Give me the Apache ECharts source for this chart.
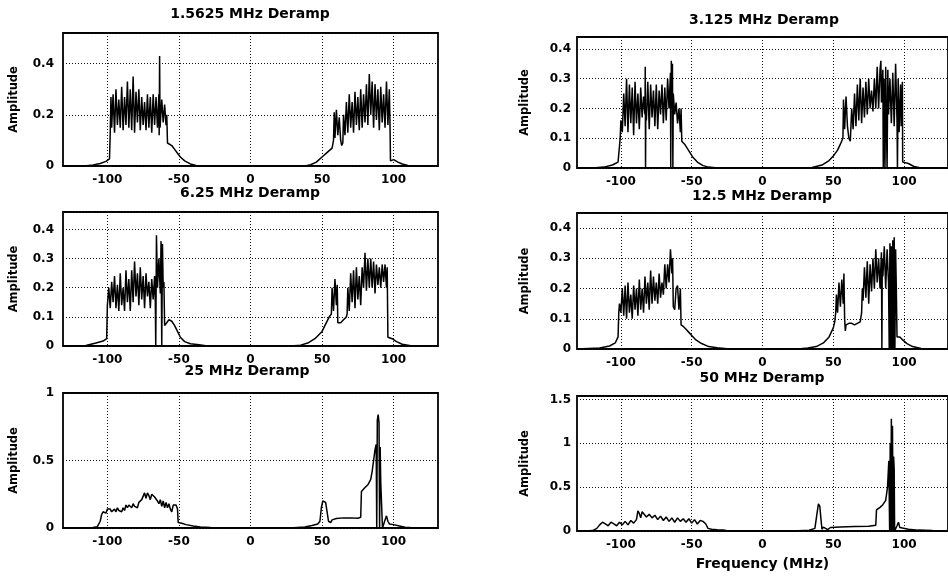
<!DOCTYPE html>
<html>
<head>
<meta charset="utf-8">
<script src="https://cdn.jsdelivr.net/npm/echarts@6/dist/echarts.min.js"></script>
<style>html,body{margin:0;padding:0;background:#fff;}#c{width:948px;height:576px;}</style>
</head>
<body>
<div id="c"></div>
<script>
// ---- data (frequency MHz, amplitude) ----
const titles = ['1.5625 MHz Deramp', '3.125 MHz Deramp', '6.25 MHz Deramp', '12.5 MHz Deramp', '25 MHz Deramp', '50 MHz Deramp'];
const xTicks = [-100, -50, 0, 50, 100];
const yMaxes = [0.52, 0.44, 0.46, 0.45, 1, 1.54];
const ySteps = [0.2, 0.1, 0.1, 0.1, 0.5, 0.5];

const spec1 = [[-131,0],[-116,0],[-110,0.004],[-105,0.01],[-101,0.018],[-98.5,0.028],[-98,0.13],[-97.5,0.27],[-97,0.15],[-96,0.28],[-95,0.13],[-94,0.3],[-93,0.16],[-92,0.26],[-91,0.15],[-90,0.31],[-89,0.14],[-88,0.27],[-87,0.16],[-86,0.33],[-85,0.15],[-84,0.3],[-83,0.14],[-82,0.35],[-81,0.13],[-80,0.29],[-79,0.17],[-78,0.3],[-77,0.14],[-76,0.27],[-75,0.16],[-74,0.25],[-73,0.14],[-72,0.28],[-71,0.15],[-70,0.27],[-69,0.13],[-68,0.28],[-67,0.16],[-66,0.27],[-65,0.15],[-64,0.28],[-63.8,0.12],[-63.5,0.43],[-63.2,0.15],[-62,0.26],[-61,0.17],[-60,0.24],[-59,0.16],[-58.5,0.2],[-58,0.09],[-57,0.085],[-55,0.08],[-53,0.065],[-51,0.05],[-49,0.035],[-46,0.02],[-42,0.008],[-38,0.002],[-32,0],
[38,0],[42,0.005],[46,0.015],[50,0.035],[54,0.055],[57,0.07],[58,0.1],[58.5,0.21],[59,0.11],[60,0.22],[61,0.12],[62,0.19],[63,0.1],[63.7,0.08],[64.5,0.09],[65,0.2],[66,0.12],[67,0.25],[68,0.13],[69,0.28],[70,0.15],[71,0.25],[72,0.13],[73,0.29],[74,0.16],[75,0.27],[76,0.14],[77,0.3],[78,0.15],[79,0.28],[80,0.17],[81,0.32],[82,0.16],[83,0.36],[84,0.2],[85,0.33],[86,0.15],[87,0.32],[88,0.18],[89,0.3],[90,0.14],[91,0.31],[92,0.17],[93,0.28],[94,0.15],[95,0.33],[96,0.16],[97,0.3],[97.5,0.15],[97.8,0.02],[100,0.025],[103,0.015],[106,0.008],[110,0.002],[116,0],[131,0]];

const spec2 = [[-131,0],[-120,0],[-112,0.003],[-106,0.01],[-102,0.02],[-101,0.025],[-100.5,0.1],[-100,0.16],[-99,0.12],[-98,0.25],[-97,0.14],[-96,0.3],[-95,0.12],[-94,0.28],[-93,0.15],[-92,0.27],[-91,0.11],[-90,0.29],[-89,0.15],[-88,0.25],[-87,0.13],[-86,0.27],[-85,0.17],[-84,0.24],[-83,0.18],[-82.8,0.34],[-82.6,0],[-82.4,0.2],[-82,0.16],[-81,0.29],[-80,0.13],[-79,0.28],[-78,0.17],[-77,0.26],[-76,0.14],[-75,0.28],[-74,0.13],[-73,0.26],[-72,0.18],[-71,0.28],[-70,0.15],[-69,0.27],[-68,0.16],[-67,0.3],[-66,0.2],[-65,0.32],[-64.8,0],[-64.4,0.36],[-64,0.2],[-63.6,0.35],[-63.3,0],[-63,0.25],[-62,0.18],[-61,0.22],[-60,0.15],[-59,0.2],[-58,0.12],[-57.5,0.2],[-57,0.09],[-56,0.085],[-55,0.08],[-53,0.065],[-51,0.05],[-49,0.035],[-46,0.02],[-42,0.008],[-38,0.003],[-32,0],
[20,0],[35,0.002],[42,0.01],[47,0.025],[50,0.04],[53,0.06],[55,0.08],[56.8,0.1],[57.2,0.23],[58,0.13],[59,0.24],[60,0.14],[61,0.1],[62,0.09],[63,0.2],[64,0.13],[65,0.25],[66,0.14],[67,0.28],[68,0.16],[69,0.3],[70,0.15],[71,0.27],[72,0.17],[73,0.29],[74,0.18],[75,0.3],[76,0.2],[77,0.26],[78,0.19],[79,0.3],[80,0.2],[81,0.34],[82,0.2],[83,0.33],[83.6,0.36],[84,0.22],[85,0.33],[85.3,0],[85.8,0.3],[86.5,0],[87,0.34],[87.5,0.14],[88,0],[88.5,0.33],[89,0.18],[90,0.3],[91,0.15],[92,0.32],[93,0.14],[94,0.35],[95,0.16],[95.3,0],[95.8,0.3],[96.5,0.12],[97.5,0.28],[98,0.14],[98.8,0.29],[99,0.02],[100,0.022],[103,0.015],[107,0.005],[112,0],[131,0]];

const spec3 = [[-131,0],[-115,0.002],[-108,0.01],[-103,0.017],[-100.5,0.025],[-100,0.14],[-99,0.2],[-98,0.13],[-97,0.22],[-96,0.15],[-95,0.24],[-94,0.13],[-93,0.21],[-92,0.12],[-91,0.25],[-90,0.14],[-89,0.2],[-88,0.12],[-87,0.26],[-86,0.15],[-85,0.23],[-84,0.12],[-83,0.26],[-82,0.15],[-81,0.29],[-80,0.17],[-79,0.25],[-78,0.14],[-77,0.27],[-76,0.16],[-75,0.24],[-74,0.13],[-73,0.25],[-72,0.17],[-71,0.22],[-70,0.13],[-69,0.23],[-68,0.16],[-67,0.24],[-66.5,0.15],[-66.2,0],[-65.7,0.38],[-65,0.2],[-64,0.3],[-63,0.18],[-62.5,0.36],[-62,0],[-61.5,0.35],[-61,0.2],[-60.5,0.22],[-60,0.07],[-59,0.075],[-57,0.09],[-55,0.085],[-53,0.07],[-51,0.05],[-49,0.03],[-46,0.015],[-42,0.008],[-36,0.004],[-30,0],
[28,0],[35,0.003],[40,0.01],[45,0.025],[50,0.05],[53,0.08],[55,0.1],[56.5,0.11],[57,0.2],[58,0.12],[59,0.23],[60,0.14],[60.6,0.21],[61,0.08],[63,0.08],[65,0.09],[67,0.1],[67.5,0.11],[68,0.2],[69,0.12],[70,0.25],[71,0.15],[72,0.26],[73,0.13],[74,0.27],[75,0.16],[76,0.24],[77,0.14],[78,0.27],[79,0.2],[80,0.32],[81,0.19],[82,0.3],[83,0.2],[84,0.3],[85,0.2],[86,0.29],[87,0.18],[88,0.28],[89,0.21],[90,0.27],[91,0.2],[92,0.28],[93,0.22],[94,0.28],[95,0.2],[95.5,0.27],[96,0.03],[99,0.025],[102,0.015],[106,0.006],[112,0.001],[118,0],[131,0]];

const spec4 = [[-131,0],[-115,0.003],[-108,0.01],[-104,0.02],[-102,0.04],[-101.5,0.12],[-101,0.15],[-100,0.12],[-99,0.2],[-98,0.11],[-97,0.21],[-96,0.1],[-95,0.22],[-94,0.12],[-93,0.18],[-92,0.1],[-91,0.21],[-90,0.13],[-89,0.2],[-88,0.11],[-87,0.23],[-86,0.13],[-85,0.2],[-84,0.12],[-83,0.24],[-82,0.15],[-81,0.22],[-80,0.13],[-79,0.26],[-78,0.15],[-77,0.24],[-76,0.16],[-75,0.22],[-74,0.15],[-73,0.25],[-72,0.17],[-71,0.22],[-70,0.18],[-69,0.28],[-68,0.2],[-67,0.28],[-66,0.22],[-65,0.33],[-64,0.25],[-63.5,0.3],[-63,0.14],[-62,0.13],[-61,0.2],[-60,0.21],[-59,0.13],[-58,0.2],[-57.5,0.08],[-56,0.075],[-54,0.065],[-52,0.055],[-50,0.045],[-47,0.03],[-43,0.018],[-38,0.008],[-32,0.004],[-25,0.001],[-20,0],
[25,0],[32,0.003],[38,0.008],[43,0.02],[47,0.04],[50,0.07],[51,0.09],[51.7,0.12],[52.2,0.18],[53,0.12],[54,0.22],[55,0.14],[56,0.23],[57,0.15],[57.5,0.25],[58,0.1],[58.5,0.06],[59,0.08],[61,0.085],[63,0.085],[65,0.08],[67,0.085],[69,0.09],[70,0.12],[70.5,0.2],[71,0.16],[72,0.27],[73,0.17],[74,0.29],[75,0.15],[76,0.28],[77,0.19],[78,0.3],[79,0.2],[80,0.33],[81,0.22],[82,0.3],[83,0.2],[84,0.32],[84.3,0],[84.6,0.3],[85,0.24],[86,0.34],[87,0.2],[88,0.33],[89,0.22],[89.5,0],[90,0.35],[90.5,0],[91,0.34],[91.5,0],[92,0.36],[92.5,0],[93,0.37],[93.5,0],[94,0.33],[94.5,0.2],[95,0.04],[96,0.045],[97,0.04],[99,0.03],[102,0.018],[106,0.008],[112,0.002],[118,0],[131,0]];

const spec5 = [[-131,0],[-115,0],[-110,0.003],[-107,0.01],[-105,0.05],[-104,0.1],[-103,0.12],[-102,0.13],[-101,0.11],[-100,0.14],[-99,0.13],[-98,0.14],[-97,0.12],[-96,0.13],[-95,0.14],[-94,0.12],[-93,0.15],[-92,0.13],[-91,0.14],[-90,0.12],[-89,0.15],[-88,0.13],[-87,0.17],[-86,0.15],[-85,0.17],[-84,0.16],[-83,0.15],[-82,0.18],[-81,0.16],[-80,0.17],[-79,0.15],[-78,0.19],[-77,0.18],[-76,0.21],[-75,0.2],[-74,0.26],[-73,0.22],[-72,0.26],[-71,0.24],[-70,0.21],[-69,0.25],[-68,0.26],[-67,0.23],[-66,0.22],[-65,0.2],[-64,0.18],[-63,0.21],[-62,0.16],[-61,0.2],[-60,0.15],[-59,0.19],[-58,0.15],[-57,0.18],[-56,0.14],[-55,0.12],[-54,0.17],[-53,0.16],[-52,0.17],[-51,0.14],[-50.5,0.04],[-48,0.035],[-45,0.025],[-40,0.015],[-35,0.008],[-28,0.003],[-20,0],
[20,0],[30,0.002],[38,0.008],[43,0.018],[47,0.03],[48.5,0.05],[49.5,0.15],[50.5,0.2],[51.5,0.21],[52.5,0.19],[53.5,0.12],[54.5,0.05],[56,0.04],[57,0.06],[60,0.07],[65,0.075],[70,0.075],[75,0.072],[77,0.08],[77.5,0.27],[80,0.3],[82,0.32],[84,0.36],[85,0.42],[86,0.5],[87,0.58],[87.8,0.62],[88.2,0],[88.6,0.8],[89.2,0.84],[89.8,0.78],[90.2,0],[90.6,0.6],[91,0.34],[91.8,0.33],[92.2,0],[93,0.01],[94,0.06],[95,0.09],[96,0.05],[97,0.03],[100,0.025],[104,0.015],[108,0.005],[115,0],[131,0]];

const spec6 = [[-131,0],[-125,0],[-120,0.005],[-117,0.03],[-115,0.07],[-113,0.1],[-111,0.08],[-109,0.06],[-107,0.1],[-105,0.08],[-103,0.06],[-101,0.1],[-99,0.07],[-97,0.11],[-95,0.07],[-93,0.12],[-91,0.09],[-89,0.13],[-88,0.23],[-87,0.2],[-86,0.15],[-85,0.22],[-84,0.2],[-82,0.16],[-80,0.19],[-78,0.15],[-76,0.18],[-74,0.13],[-72,0.17],[-70,0.12],[-68,0.16],[-66,0.11],[-64,0.15],[-62,0.1],[-60,0.15],[-58,0.11],[-56,0.14],[-54,0.1],[-52,0.14],[-50,0.09],[-48,0.13],[-46,0.08],[-44,0.12],[-42,0.11],[-40,0.08],[-38.5,0.03],[-36,0.02],[-32,0.015],[-27,0.01],[-25,0.003],[-20,0],
[20,0],[25,0.003],[33,0.008],[37,0.03],[38.5,0.2],[39.5,0.31],[40.5,0.28],[41.2,0.15],[42,0.02],[43,0.045],[44,0.04],[46,0.015],[47,0.02],[48,0.04],[55,0.045],[65,0.05],[75,0.055],[80,0.065],[80.5,0.24],[83,0.27],[85,0.3],[87,0.35],[88.3,0.5],[89.2,0.8],[89.8,0],[90.2,1.0],[90.6,0],[91,1.28],[91.4,0],[91.8,1.2],[92.2,0],[92.6,0.85],[93,0.7],[93.3,0],[94,0.01],[95,0.06],[96,0.1],[97,0.04],[98,0.02],[103,0.02],[110,0.01],[120,0.005],[131,0]];

const spectra = [spec1, spec2, spec3, spec4, spec5, spec6];

// ---- layout ----
const gridBoxes = [
  {left: 63, top: 33, width: 375, height: 133},
  {left: 577, top: 37, width: 375, height: 131},
  {left: 63, top: 212, width: 375, height: 134},
  {left: 577, top: 213, width: 375, height: 136},
  {left: 63, top: 393, width: 375, height: 135},
  {left: 577, top: 396, width: 375, height: 135}
];
const titlePos = [[250, 7], [764, 13], [250, 186], [762, 189], [247, 364], [762, 371]];

const FONT = '"DejaVu Sans", sans-serif';
const chart = echarts.init(document.getElementById('c'), null, {renderer: 'canvas'});

const grid = [], xAxis = [], yAxis = [], series = [], title = [];
for (let i = 0; i < 6; i++) {
  const right = i % 2 === 1;
  grid.push(Object.assign({show: true, borderColor: '#000', borderWidth: 1.8, backgroundColor: '#fff', containLabel: false}, gridBoxes[i]));
  title.push({
    text: titles[i], left: titlePos[i][0], top: titlePos[i][1], textAlign: 'center', padding: 0,
    textStyle: {fontFamily: FONT, fontWeight: 'bold', fontSize: 14, color: '#000'}
  });
  xAxis.push({
    type: 'value', gridIndex: i, min: -131, max: 131,
    axisLine: {show: false}, axisTick: {show: false, customValues: xTicks},
    axisLabel: {customValues: xTicks, margin: 8, color: '#000', fontFamily: FONT, fontWeight: 'bold', fontSize: 12},
    splitLine: {show: true, lineStyle: {color: '#111', width: 1, type: [1, 2]}},
    name: i === 5 ? 'Frequency (MHz)' : '', nameLocation: 'middle', nameGap: 26,
    nameTextStyle: {fontFamily: FONT, fontWeight: 'bold', fontSize: 14, color: '#000'}
  });
  yAxis.push({
    type: 'value', gridIndex: i, min: 0, max: yMaxes[i], interval: ySteps[i],
    axisLine: {show: false}, axisTick: {show: false},
    axisLabel: {showMaxLabel: i === 4, margin: right ? 6 : 9, color: '#000', fontFamily: FONT, fontWeight: 'bold', fontSize: 12},
    splitLine: {show: true, lineStyle: {color: '#111', width: 1, type: [1, 2]}},
    name: 'Amplitude', nameLocation: 'middle', nameGap: right ? 46 : 43,
    nameTextStyle: {fontFamily: FONT, fontWeight: 'bold', fontSize: 11.5, color: '#000'}
  });
  series.push({
    type: 'line', xAxisIndex: i, yAxisIndex: i, data: spectra[i],
    showSymbol: false, symbol: 'none', animation: false,
    lineStyle: {color: '#000', width: 1.5}
  });
}

chart.setOption({
  backgroundColor: '#fff', animation: false,
  title, grid, xAxis, yAxis, series
});
</script>
</body>
</html>
